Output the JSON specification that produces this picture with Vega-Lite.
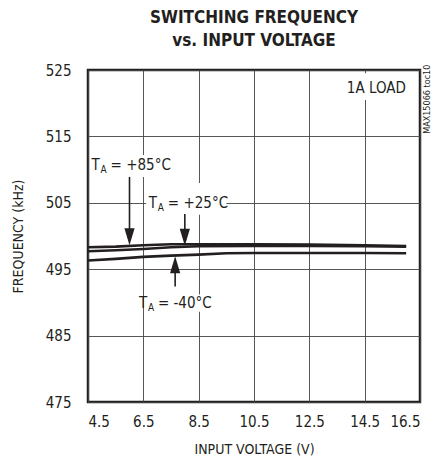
{
  "$schema": "https://vega.github.io/schema/vega-lite/v6.json",
  "width": 332,
  "height": 332,
  "autosize": "none",
  "padding": {"left": 88, "top": 70, "right": 28, "bottom": 61},
  "background": "white",
  "title": {
    "text": ["SWITCHING FREQUENCY", "vs. INPUT VOLTAGE"],
    "font": "DejaVu Sans Condensed",
    "fontSize": 17,
    "fontWeight": "bold",
    "lineHeight": 23,
    "color": "#231f20",
    "anchor": "middle",
    "offset": 13
  },
  "config": {
    "font": "DejaVu Sans Condensed",
    "view": {"stroke": "#231f20", "strokeWidth": 2.5},
    "axis": {
      "domain": false,
      "ticks": false,
      "grid": true,
      "gridColor": "#444444",
      "gridWidth": 0.9,
      "labelFont": "DejaVu Sans Condensed",
      "labelFontSize": 15,
      "labelColor": "#231f20",
      "titleFont": "DejaVu Sans Condensed",
      "titleFontSize": 14,
      "titleFontWeight": "normal",
      "titleColor": "#231f20"
    }
  },
  "datasets": {
    "curves": [
      {"series": "+85", "v": 4.5, "f": 498.3},
      {"series": "+85", "v": 5.5, "f": 498.4},
      {"series": "+85", "v": 6.5, "f": 498.6},
      {"series": "+85", "v": 7.5, "f": 498.75},
      {"series": "+85", "v": 8.5, "f": 498.75},
      {"series": "+85", "v": 10.5, "f": 498.75},
      {"series": "+85", "v": 12.5, "f": 498.7},
      {"series": "+85", "v": 14.5, "f": 498.6},
      {"series": "+85", "v": 16, "f": 498.5},
      {"series": "+25", "v": 4.5, "f": 497.7},
      {"series": "+25", "v": 5.5, "f": 497.85},
      {"series": "+25", "v": 6.5, "f": 498.05},
      {"series": "+25", "v": 7.5, "f": 498.3},
      {"series": "+25", "v": 8.5, "f": 498.45},
      {"series": "+25", "v": 10.5, "f": 498.5},
      {"series": "+25", "v": 12.5, "f": 498.5},
      {"series": "+25", "v": 14.5, "f": 498.45},
      {"series": "+25", "v": 16, "f": 498.4},
      {"series": "-40", "v": 4.5, "f": 496.3},
      {"series": "-40", "v": 5.5, "f": 496.55},
      {"series": "-40", "v": 6.5, "f": 496.85},
      {"series": "-40", "v": 7.5, "f": 497.05},
      {"series": "-40", "v": 8.5, "f": 497.2},
      {"series": "-40", "v": 9.5, "f": 497.4},
      {"series": "-40", "v": 10.5, "f": 497.45},
      {"series": "-40", "v": 12.5, "f": 497.45},
      {"series": "-40", "v": 14.5, "f": 497.45},
      {"series": "-40", "v": 16, "f": 497.4}
    ],
    "boxes": [
      {"v1": 4.6, "v2": 7.4, "f1": 508.9, "f2": 512.2},
      {"v1": 6.6, "v2": 9.5, "f1": 503.2, "f2": 508.0},
      {"v1": 6.55, "v2": 8.9, "f1": 488.6, "f2": 491.2},
      {"v1": 13.9, "v2": 16.1, "f1": 520.5, "f2": 524.5}
    ],
    "labels": [
      {"v": 4.63, "f": 510.7, "temp": "= +85°C"},
      {"v": 6.7, "f": 504.9, "temp": "= +25°C"},
      {"v": 6.34, "f": 489.9, "temp": "= -40°C"}
    ],
    "arrows": [
      {"v": 6.0, "f1": 508.9, "f2": 499.6, "tip": 498.6, "dir": "down"},
      {"v": 8.0, "f1": 503.3, "f2": 499.5, "tip": 498.55, "dir": "down"},
      {"v": 7.65, "f1": 492.4, "f2": 496.0, "tip": 496.95, "dir": "up"}
    ],
    "notes": [
      {"v": 15.99, "f": 522.3, "text": "1A LOAD"}
    ],
    "side": [
      {"v": 16.76, "f": 520.6, "text": "MAX15066 toc10"}
    ]
  },
  "encoding": {
    "x": {
      "type": "quantitative",
      "scale": {"domain": [4.5, 16.5], "nice": false, "zero": false},
      "axis": {"values": [4.5, 6.5, 8.5, 10.5, 12.5, 14.5, 16.5], "format": ".1f", "labelPadding": 12, "title": "INPUT VOLTAGE (V)", "titlePadding": 13}
    },
    "y": {
      "type": "quantitative",
      "scale": {"domain": [475, 525], "nice": false, "zero": false},
      "axis": {"values": [475, 485, 495, 505, 515, 525], "labelPadding": 17, "title": "FREQUENCY (kHz)", "titlePadding": 20}
    }
  },
  "layer": [
    {
      "data": {"name": "curves"},
      "mark": {"type": "line", "color": "#231f20", "strokeWidth": 2.6},
      "encoding": {
        "x": {"field": "v", "type": "quantitative"},
        "y": {"field": "f", "type": "quantitative"},
        "detail": {"field": "series"}
      }
    },
    {
      "data": {"name": "boxes"},
      "mark": {"type": "rect", "color": "white"},
      "encoding": {
        "x": {"field": "v1", "type": "quantitative"},
        "x2": {"field": "v2"},
        "y": {"field": "f1", "type": "quantitative"},
        "y2": {"field": "f2"}
      }
    },
    {
      "data": {"name": "labels"},
      "mark": {"type": "text", "align": "left", "baseline": "middle", "fontSize": 15, "color": "#231f20", "text": "T"},
      "encoding": {
        "x": {"field": "v", "type": "quantitative"},
        "y": {"field": "f", "type": "quantitative"}
      }
    },
    {
      "data": {"name": "labels"},
      "mark": {"type": "text", "align": "left", "baseline": "middle", "fontSize": 10, "dx": 9, "dy": 5, "color": "#231f20", "text": "A"},
      "encoding": {
        "x": {"field": "v", "type": "quantitative"},
        "y": {"field": "f", "type": "quantitative"}
      }
    },
    {
      "data": {"name": "labels"},
      "mark": {"type": "text", "align": "left", "baseline": "middle", "fontSize": 15, "dx": 19, "color": "#231f20"},
      "encoding": {
        "x": {"field": "v", "type": "quantitative"},
        "y": {"field": "f", "type": "quantitative"},
        "text": {"field": "temp"}
      }
    },
    {
      "data": {"name": "arrows"},
      "mark": {"type": "rule", "color": "#231f20", "strokeWidth": 1.6},
      "encoding": {
        "x": {"field": "v", "type": "quantitative"},
        "y": {"field": "f1", "type": "quantitative"},
        "y2": {"field": "f2"}
      }
    },
    {
      "data": {"name": "arrows"},
      "transform": [{"filter": "datum.dir == 'down'"}],
      "mark": {"type": "point", "filled": true, "color": "#231f20", "opacity": 1, "size": 289, "shape": "M-0.6,-2L0.6,-2L0,0Z"},
      "encoding": {
        "x": {"field": "v", "type": "quantitative"},
        "y": {"field": "tip", "type": "quantitative"}
      }
    },
    {
      "data": {"name": "arrows"},
      "transform": [{"filter": "datum.dir == 'up'"}],
      "mark": {"type": "point", "filled": true, "color": "#231f20", "opacity": 1, "size": 289, "shape": "M-0.6,2L0.6,2L0,0Z"},
      "encoding": {
        "x": {"field": "v", "type": "quantitative"},
        "y": {"field": "tip", "type": "quantitative"}
      }
    },
    {
      "data": {"name": "notes"},
      "mark": {"type": "text", "align": "right", "baseline": "middle", "fontSize": 15, "color": "#231f20"},
      "encoding": {
        "x": {"field": "v", "type": "quantitative"},
        "y": {"field": "f", "type": "quantitative"},
        "text": {"field": "text"}
      }
    },
    {
      "data": {"name": "side"},
      "mark": {"type": "text", "align": "center", "baseline": "middle", "angle": 270, "fontSize": 9, "color": "#231f20", "clip": false},
      "encoding": {
        "x": {"field": "v", "type": "quantitative"},
        "y": {"field": "f", "type": "quantitative"},
        "text": {"field": "text"}
      }
    }
  ]
}
